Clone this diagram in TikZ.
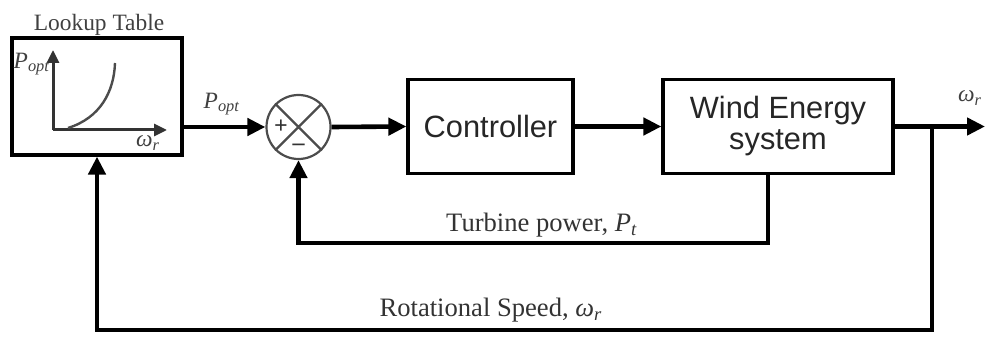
\documentclass[tikz,border=0pt]{standalone}
\usepackage{fontspec}
\setmainfont{Liberation Serif}
\newfontfamily\arialf{Liberation Sans}
\usetikzlibrary{arrows.meta}
\newcommand{\vP}[1]{\textit{P}\textsubscript{\textit{#1}}}
\newcommand{\vW}{\textit{ω}\textsubscript{\textit{r}}}
\begin{document}
\begin{tikzpicture}[x=0.5pt,y=-0.5pt,
  box/.style={draw=black, line width=1.6pt, rectangle, inner sep=0pt,
    font=\arialf\fontsize{15.4}{15.5}\selectfont, align=center, text=black!85},
  arr/.style={line width=2.3pt, -{Triangle[length=9pt,width=8.5pt]}},
  lbl/.style={font=\fontsize{13.3}{15}\selectfont, text=black!80, inner sep=0pt},
  small/.style={font=\fontsize{11.7}{13}\selectfont, text=black!75, inner sep=0pt},
  axis/.style={line width=1.5pt, draw=black!80, -{Triangle[length=6.5pt,width=6pt]}},
]
\useasboundingbox (0,0) rectangle (985,358);

% blocks
\node[box, minimum width=85pt, minimum height=58.5pt] (lut) at (97,96.5) {};
\node[box, minimum width=82.5pt, minimum height=47pt] (ctrl) at (490.5,126.5) {Controller};
\node[box, minimum width=115pt, minimum height=47pt] (wes) at (778,126.5) {Wind Energy\\system};
\node[circle, draw=black!70, line width=1.1pt, minimum size=32pt, inner sep=0pt] (sum) at (298.5,127) {};
\draw[draw=black!70, line width=1.1pt] (sum.north west) -- (sum.south east) (sum.north east) -- (sum.south west);
\node[font=\bfseries\fontsize{12}{12}\selectfont, inner sep=0pt, text=black!80] (plus) at (281,127) {+};
\node[font=\bfseries\fontsize{12}{12}\selectfont, inner sep=0pt, text=black!80] (minus) at (298.5,147) {\textendash};

% lookup table contents
\node[small] (title) at (99,25) {Lookup Table};
\coordinate (org) at (53,130);
\coordinate (yax) at (53,50);
\coordinate (xax) at (167,130);
\draw[axis] (org) -- (yax);
\draw[axis] (org) -- (xax);
\draw[line width=1.2pt, draw=black!70] (68,128) .. controls (100,118) and (114,92) .. (115,63);
\node[small] (pl) at (32,64) {\vP{opt}};
\node[small] (wl) at (148,143) {\vW};

% forward path
\draw[arr] (sum.west -| lut.east) -- (sum.west);
\node[small] (plab) at (222,104) {\vP{opt}};
\draw[arr] (sum.east) -- (ctrl.west);
\draw[arr] (ctrl.east) -- (wes.west);
\coordinate (out) at (985,126.5);
\draw[arr] (wes.east) -- (out);
\node[small] (wout) at (970,98) {\vW};

% inner feedback
\coordinate (fb) at (768,243);
\draw[arr] (wes.south -| fb) -- (fb) -| (sum.south);
\node[lbl, anchor=east] (tp) at (638,225) {Turbine power, \vP{t}};

% outer feedback
\coordinate (br) at (932,126.5);
\coordinate (rc) at (932,330);
\draw[arr] (br) -- (rc) -| (lut.south);
\node[lbl] (rs) at (491,310) {Rotational Speed, \vW};
\end{tikzpicture}
\end{document}
